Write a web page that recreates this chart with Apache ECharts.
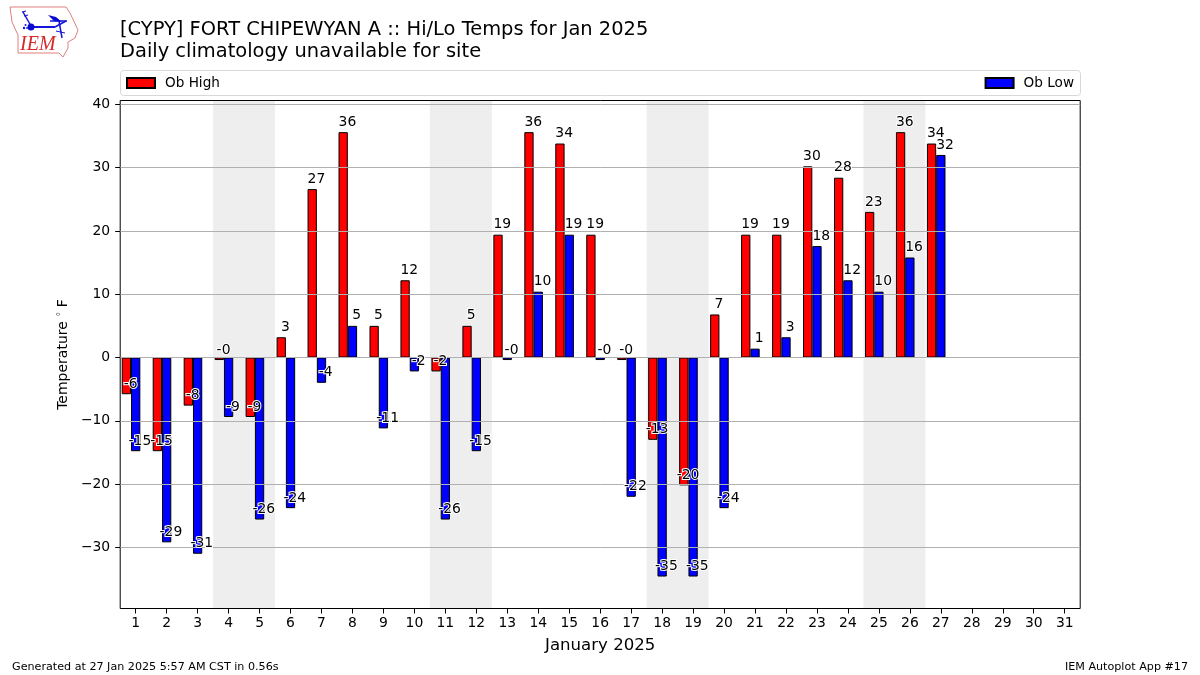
<!DOCTYPE html>
<html>
<head>
<meta charset="utf-8">
<style>html,body{margin:0;padding:0;background:#fff}#c{width:1200px;height:675px}</style>
<script src="https://cdn.jsdelivr.net/npm/echarts@6/dist/echarts.min.js"></script>
</head>
<body>
<div id="c"></div>
<script>
const days = ['1','2','3','4','5','6','7','8','9','10','11','12','13','14','15','16','17','18','19','20','21','22','23','24','25','26','27','28','29','30','31'];
const obHigh = [-5.8,-14.8,-7.6,-0.4,-9.4,3.2,26.6,35.6,5,12.2,-2.2,5,19.4,35.6,33.8,19.4,-0.4,-13,-20.2,6.8,19.4,19.4,30.2,28.4,23,35.6,33.8,null,null,null,null];
const obLow = [-14.8,-29.2,-31,-9.4,-25.6,-23.8,-4,5,-11.2,-2.2,-25.6,-14.8,-0.4,10.4,19.4,-0.4,-22,-34.6,-34.6,-23.8,1.4,3.2,17.6,12.2,10.4,15.8,32,null,null,null,null];
const weekendSpans = [['4','5'],['11','12'],['18','19'],['25','26']];
const yTicks = [-30,-20,-10,0,10,20,30,40];
const titleText = '[CYPY] FORT CHIPEWYAN A :: Hi/Lo Temps for Jan 2025\nDaily climatology unavailable for site';
const footLeft = 'Generated at 27 Jan 2025 5:57 AM CST in 0.56s';
const footRight = 'IEM Autoplot App #17';

const FF = '"DejaVu Sans"';
const chart = echarts.init(document.getElementById('c'), null, {renderer:'canvas'});

function labelRows(vals){
  return vals.map((v,i)=>[days[i],v]).filter(r=>r[1]!==null);
}
function labelSeries(vals, offset){
  return {
    type:'custom', z:5, silent:true, clip:false,
    data: labelRows(vals),
    encode:{x:0,y:1},
    renderItem(params, api){
      const v = api.value(1);
      const p = api.coord([api.value(0), v]);
      const w = api.size([1,0])[0];
      return {type:'text', z2:10, style:{
        text:v.toFixed(0), x:p[0]+w*offset-0.4, y:p[1]-3,
        align:'center', verticalAlign:'bottom',
        fill:'#000', stroke:'#fff', lineWidth:2,
        font:'13.9px '+FF
      }};
    }
  };
}

const barBase = {type:'bar', barWidth:'30%', barGap:0, z:2,
  itemStyle:{borderColor:'#000',borderWidth:1}};

chart.setOption({
  animation:false,
  backgroundColor:'#fff',
  title:[
    {text:titleText,left:120,top:19,padding:0,textStyle:{fontFamily:FF,fontWeight:'normal',fontSize:19.44,lineHeight:22,color:'#000'}},
    {text:footLeft,left:12,top:661.5,padding:0,textStyle:{fontFamily:FF,fontWeight:'normal',fontSize:11.15,color:'#000'}},
    {text:footRight,right:12,top:661.5,padding:0,textStyle:{fontFamily:FF,fontWeight:'normal',fontSize:11.15,color:'#000'}}
  ],
  legend:[
    {data:['Ob High'],left:126,top:76,padding:0,icon:'rect',itemWidth:28,itemHeight:10,textStyle:{fontFamily:FF,fontSize:13.6,lineHeight:9,color:'#000',padding:[0,0,0,5]}},
    {data:['Ob Low'],right:126,top:76,padding:0,icon:'rect',itemWidth:28,itemHeight:10,textStyle:{fontFamily:FF,fontSize:13.6,lineHeight:9,color:'#000',padding:[0,0,0,5]}}
  ],
  grid:{left:120.2,right:119.8,top:100.5,bottom:66.5,show:true,borderColor:'#000',borderWidth:1,backgroundColor:'transparent'},
  xAxis:{
    type:'category',data:days,boundaryGap:true,z:3,
    name:'January 2025',nameLocation:'middle',nameGap:28.5,
    nameTextStyle:{fontFamily:FF,fontSize:16.6,color:'#000'},
    axisLine:{show:false,onZero:false},
    axisTick:{show:true,alignWithLabel:true,length:5,lineStyle:{color:'#000'}},
    axisLabel:{interval:0,fontFamily:FF,fontSize:13.9,color:'#000',margin:7.5},
    splitLine:{show:false}
  },
  yAxis:{
    type:'value',min:-39.65,max:40.6,z:3,
    name:'{a|Temperature }{b|°}{a| F}',nameLocation:'middle',nameRotate:90,nameGap:49.5,
    nameTextStyle:{rich:{a:{fontFamily:FF,fontSize:14,color:'#000'},b:{fontFamily:FF,fontSize:10,color:'#555',padding:[0,0,4,0]}}},
    axisLine:{show:false},
    axisTick:{show:true,length:5,lineStyle:{color:'#000'},customValues:yTicks},
    axisLabel:{fontFamily:FF,fontSize:13.9,color:'#000',margin:10,padding:[2,0,0,0],customValues:yTicks,
      formatter:v=>String(v).replace('-','\u2212')},
    splitLine:{show:true,lineStyle:{color:'#b0b0b0',width:1}}
  },
  series:[
    {
      type:'custom',z:-1,silent:true,data:weekendSpans,
      encode:{x:[0,1]},
      renderItem(params,api){
        const w = api.size([1,0])[0];
        const a = api.coord([api.value(0),0])[0]-w/2;
        const b = api.coord([api.value(1),0])[0]+w/2;
        const g = params.coordSys;
        return {type:'rect',shape:{x:a,y:g.y,width:b-a,height:g.height},style:{fill:'#eeeeee'}};
      }
    },
    Object.assign({},barBase,{name:'Ob High',data:obHigh,itemStyle:Object.assign({color:'#ff0000'},barBase.itemStyle)}),
    Object.assign({},barBase,{name:'Ob Low',data:obLow,itemStyle:Object.assign({color:'#0000ff'},barBase.itemStyle)}),
    Object.assign({},barBase,{name:'slot',data:[]}),
    labelSeries(obHigh,-0.15),
    labelSeries(obLow,0.15)
  ],
  graphic:[
    {type:'rect',silent:true,z:-5,shape:{x:120.5,y:70.5,width:960,height:25,r:3},style:{fill:'#fff',stroke:'#d8d8d8',lineWidth:1}},
    {type:'group',silent:true,children:[
      {type:'polyline',shape:{points:[[10,7],[66,7],[70,13],[78,30],[75,38],[68,42],[68,48],[63,57],[59,53],[18,53],[18,35],[12,22],[10,7]]},style:{fill:'none',stroke:'#e08080',lineWidth:1}},
      {type:'line',shape:{x1:31,y1:27,x2:55,y2:27},style:{stroke:'#1515d8',lineWidth:2}},
      {type:'line',shape:{x1:50,y1:21,x2:67,y2:21},style:{stroke:'#1515d8',lineWidth:1.5}},
      {type:'line',shape:{x1:55,y1:27,x2:66,y2:21},style:{stroke:'#1515d8',lineWidth:1.5}},
      {type:'line',shape:{x1:59,y1:21,x2:62,y2:38},style:{stroke:'#1515d8',lineWidth:1.5}},
      {type:'line',shape:{x1:31,y1:26,x2:23,y2:12},style:{stroke:'#1515d8',lineWidth:1.5}},
      {type:'line',shape:{x1:22,y1:12,x2:26,y2:11},style:{stroke:'#1515d8',lineWidth:1.2}},
      {type:'line',shape:{x1:24,y1:16,x2:28,y2:15},style:{stroke:'#1515d8',lineWidth:1.2}},
      {type:'circle',shape:{cx:31,cy:27,r:3.5},style:{fill:'#0a0ad0'}},
      {type:'polygon',shape:{points:[[48,15],[56,17],[62,22],[54,21]]},style:{fill:'#0a0ad0'}},
      {type:'circle',shape:{cx:24,cy:28,r:1.2},style:{fill:'#1515d8'}},
      {type:'circle',shape:{cx:27,cy:28,r:0.9},style:{fill:'#1515d8'}},
      {type:'circle',shape:{cx:25.5,cy:25,r:1},style:{fill:'#1515d8'}},
      {type:'line',shape:{x1:56,y1:31,x2:65,y2:33},style:{stroke:'#1515d8',lineWidth:1}},
      {type:'text',style:{text:'IEM',x:20,y:35,font:'italic 20px "Liberation Serif"',fill:'#d62828'}}
    ]}
  ]
});
</script>
</body>
</html>
